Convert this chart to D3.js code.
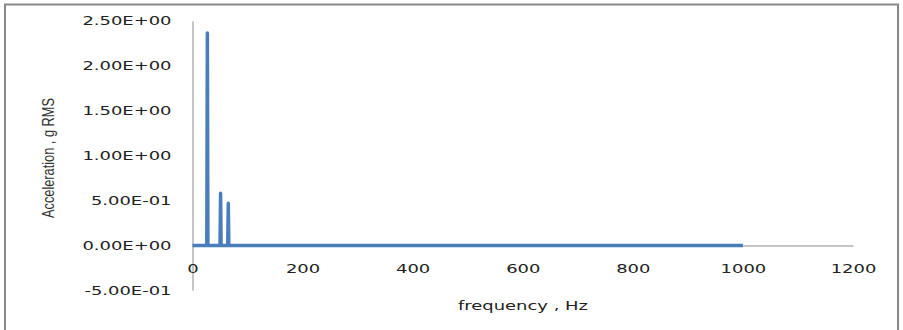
<!DOCTYPE html>
<html>
<head>
<meta charset="utf-8">
<script src="https://cdn.jsdelivr.net/npm/d3@7"></script>
<style>
  html, body { margin: 0; padding: 0; background: #fff; }
  svg { display: block; }
</style>
</head>
<body>
<div id="chart"></div>
<script>
// spectrum (Hz, g RMS)
var freq  = [0, 26, 27, 28, 50, 51, 52, 64, 65, 66, 1000];
var accel = [0, 0, 2.36, 0, 0, 0.58, 0, 0, 0.47, 0, 0];

var yTicks = [-0.5, 0, 0.5, 1, 1.5, 2, 2.5];
var xTicks = [0, 200, 400, 600, 800, 1000, 1200];

var xTitle = 'frequency , Hz';
var yTitle = 'Acceleration , g RMS';

var width = 903, height = 330;
var plot = { left: 192.5, right: 853, top: 20.5, bottom: 290.5 };

var svg = d3.select('#chart')
	.append('svg')
	.attr('width', width)
	.attr('height', height);

// outer frame
svg.append('rect')
	.attr('x', 5)
	.attr('y', 4.5)
	.attr('width', 893)
	.attr('height', 340)
	.attr('fill', 'none')
	.attr('stroke', '#888')
	.attr('stroke-width', 2);

var x = d3.scaleLinear().domain([0, 1200]).range([plot.left, plot.right]);
var y = d3.scaleLinear().domain([-0.5, 2.5]).range([plot.bottom, plot.top]);

// stretch labels horizontally like the original
function stretch(sel, k) {
	sel.each(function() {
		var w = this.getComputedTextLength();
		d3.select(this)
			.attr('textLength', w * k)
			.attr('lengthAdjust', 'spacingAndGlyphs');
	});
}

// y axis
var yAxis = svg.append('g')
	.attr('transform', 'translate(' + plot.left + ',0)')
	.call(d3.axisLeft(y).tickValues(yTicks).tickSize(0).tickPadding(20)
		.tickFormat(function(d) {
			var s = d.toExponential(2).toUpperCase().replace(/E([+-])(\d)$/, 'E$10$2');
			return s;
		}));
yAxis.select('.domain').attr('stroke', '#8c8c8c').attr('stroke-width', 1)
	.attr('d', 'M0.5,' + (plot.top + 1) + 'V' + plot.bottom);
yAxis.selectAll('text')
	.attr('font-family', 'DejaVu Sans, Verdana, sans-serif')
	.attr('font-size', 13)
	.attr('fill', '#222')
	.attr('x', -21)
	.call(stretch, 1.38);

// x axis drawn at y = 0
var xAxis = svg.append('g')
	.attr('transform', 'translate(0,' + y(0) + ')')
	.call(d3.axisBottom(x).tickValues(xTicks).tickSize(0).tickPadding(18)
		.tickFormat(d3.format('d')));
xAxis.select('.domain').attr('stroke', '#8c8c8c').attr('stroke-width', 1);
xAxis.selectAll('text')
	.attr('font-family', 'DejaVu Sans, Verdana, sans-serif')
	.attr('font-size', 13)
	.attr('fill', '#222')
	.call(stretch, 1.38);

// data line
var points = freq.map(function(f, i) { return [f, accel[i]]; });
svg.append('path')
	.datum(points)
	.attr('fill', 'none')
	.attr('stroke', '#4a7ebb')
	.attr('stroke-width', 3.5)
	.attr('stroke-linejoin', 'round')
	.attr('d', d3.line()
		.x(function(d) { return x(d[0]); })
		.y(function(d) { return y(d[1]); }));

// axis titles
svg.append('text')
	.attr('x', 523)
	.attr('y', 310)
	.attr('text-anchor', 'middle')
	.attr('font-family', 'DejaVu Sans, Verdana, sans-serif')
	.attr('font-size', 13)
	.attr('fill', '#222')
	.text(xTitle)
	.call(stretch, 1.38);

svg.append('text')
	.attr('transform', 'translate(54,158) rotate(-90)')
	.attr('text-anchor', 'middle')
	.attr('font-family', '"Liberation Sans", Arial, sans-serif')
	.attr('font-size', 16)
	.attr('fill', '#333')
	.attr('textLength', 120)
	.attr('lengthAdjust', 'spacingAndGlyphs')
	.text(yTitle);
</script>
</body>
</html>
